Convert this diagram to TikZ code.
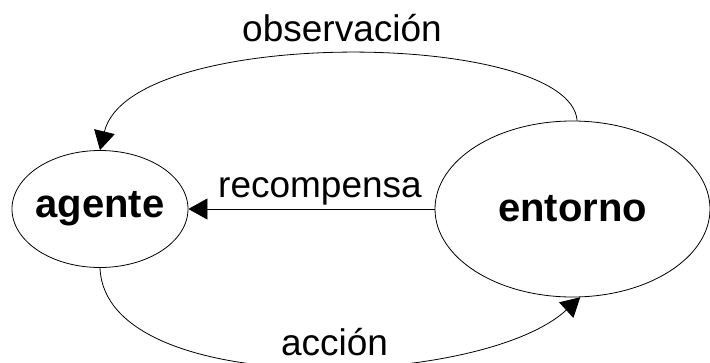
\documentclass[tikz,border=0pt]{standalone}
\usepackage{fontspec}
\setmainfont{Liberation Sans}
\usetikzlibrary{arrows.meta,shapes.geometric}
\begin{document}
\begin{tikzpicture}[x=1pt,y=1pt,
  statebox/.style={draw=black,ellipse,line width=0.8pt,inner xsep=-3pt,inner ysep=0pt,
    font=\fontsize{40}{44}\selectfont\bfseries},
  lbl/.style={anchor=base,inner sep=0pt,font=\fontsize{37}{40}\selectfont},
  conn/.style={draw=black,line width=0.8pt,-{Triangle[length=19pt,width=21pt]}}]
\useasboundingbox (0,0) rectangle (710,-362);
\node[statebox,minimum width=176pt,minimum height=117pt] (agente) at (100,-209) {agente};
\node[statebox,minimum width=275pt,minimum height=176pt] (entorno) at (572.5,-209) {entorno};
\node[lbl] (obs) at (342,-41) {observación};
\node[lbl] (rec) at (320,-197) {recompensa};
\draw[conn] (entorno.87) .. controls +(-7,91) and +(30,125) .. (agente.north);
\draw[conn] (entorno.west) -- (agente.east);
\draw[conn] (agente.south) .. controls +(5,-132) and +(-100,-92) .. (entorno.-85);
\node[lbl,fill=white,inner xsep=10pt,inner ysep=4pt] (acc) at (334.5,-355) {acción};
\end{tikzpicture}
\end{document}
